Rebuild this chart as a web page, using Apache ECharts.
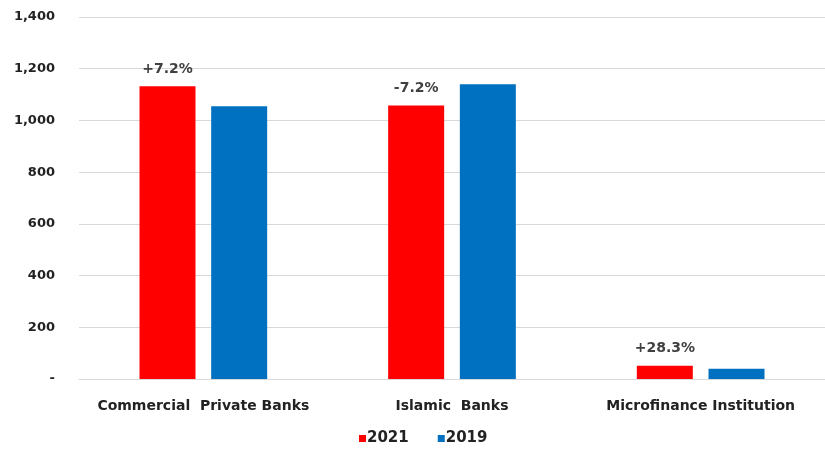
<!DOCTYPE html>
<html><head><meta charset="utf-8">
<script src="https://cdn.jsdelivr.net/npm/echarts@6/dist/echarts.min.js"></script>
<style>html,body{margin:0;padding:0;background:#fff}#c{width:825px;height:455px}</style>
</head><body><div id="c"></div>
<script>
const categories = ['Commercial  Private Banks', 'Islamic  Banks', 'Microfinance Institution'];
const values2021 = [1132, 1058, 51];
const values2019 = [1055, 1140, 40];
const changeLabels = ['+7.2%', '-7.2%', '+28.3%'];
const seriesNames = ['2021', '2019'];

const FONT = 'DejaVu Sans';
const chart = echarts.init(document.getElementById('c'));
chart.setOption({
  animation: false,
  grid: { left: 79, right: 0, top: 17, bottom: 76 },
  legend: {
    data: seriesNames, bottom: 4, left: 354, itemWidth: 7, itemHeight: 7, itemGap: 29,
    icon: 'rect',
    textStyle: { fontFamily: FONT, fontWeight: 'bold', fontSize: 15, color: '#222', padding: [0,0,0,-4] }
  },
  xAxis: {
    type: 'category', data: categories,
    axisLine: { show: true, lineStyle: { color: '#d9d9d9', width: 1 } },
    axisTick: { show: false },
    axisLabel: { interval: 0, margin: 20, fontFamily: FONT, fontWeight: 'bold', fontSize: 14, color: '#222' }
  },
  yAxis: {
    type: 'value', min: 0, max: 1400, interval: 200,
    axisLine: { show: false }, axisTick: { show: false },
    splitLine: { lineStyle: { color: '#d9d9d9', width: 1 } },
    axisLabel: {
      margin: 24, fontFamily: FONT, fontWeight: 'bold', fontSize: 13, color: '#222',
      formatter: v => v === 0 ? '-' : v.toLocaleString('en-US')
    }
  },
  series: [
    {
      name: seriesNames[0], type: 'bar', data: values2021, barWidth: 56, barGap: '28%',
      itemStyle: { color: '#ff0000' },
      label: {
        show: true, position: 'top', distance: 10,
        formatter: p => changeLabels[p.dataIndex],
        fontFamily: FONT, fontWeight: 'bold', fontSize: 14, color: '#404040'
      }
    },
    {
      name: seriesNames[1], type: 'bar', data: values2019, barWidth: 56,
      itemStyle: { color: '#0070c0' }
    }
  ]
});
</script></body></html>
